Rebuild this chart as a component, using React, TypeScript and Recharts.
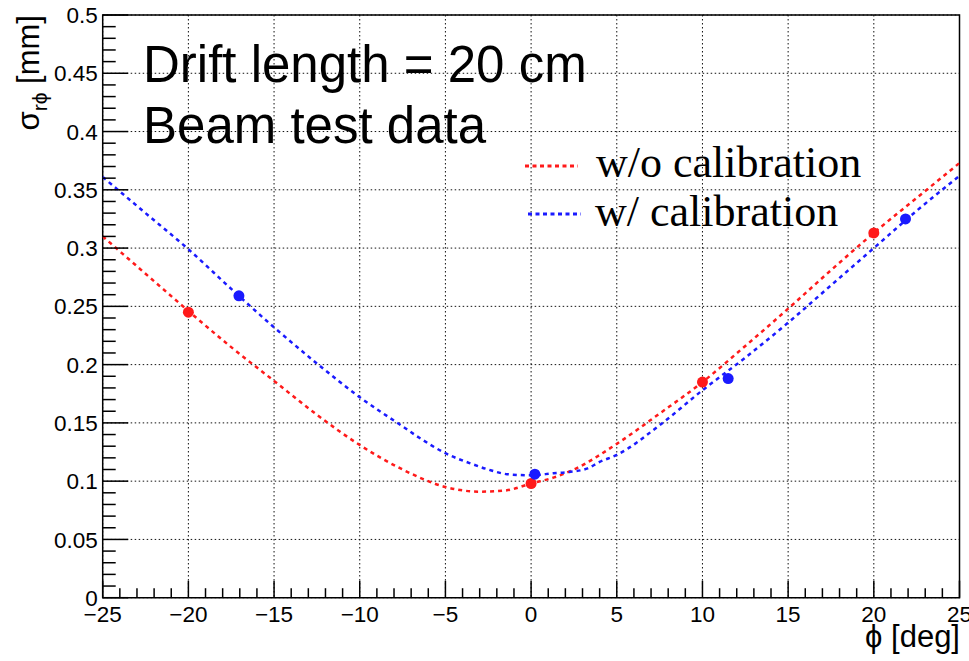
import React from "react";
import {
  ComposedChart,
  Line,
  Scatter,
  XAxis,
  YAxis,
  CartesianGrid,
  ReferenceArea,
  Customized,
} from "recharts";

// ---- data ----
const redPointsPhi = [-20, 0, 10, 20];
const redPointsVal = [0.245, 0.098, 0.185, 0.313];
const bluePointsPhi = [-17.05, 0.22, 11.5, 21.85];
const bluePointsVal = [0.259, 0.106, 0.188, 0.325];

const redCurvePhi = [-25, -22.5, -20, -17.5, -15, -12.5, -10, -7.5, -5, -3, -1.5, 0, 1.3, 2.5, 5, 7.5, 10, 12.5, 15, 17.5, 20, 22.5, 25];
const redCurveVal = [0.31, 0.278, 0.246, 0.215, 0.186, 0.157, 0.131, 0.11, 0.095, 0.091, 0.092, 0.098, 0.103, 0.11, 0.132, 0.158, 0.185, 0.216, 0.248, 0.281, 0.313, 0.343, 0.373];

const blueCurvePhi = [-25, -22.5, -20, -17.5, -15, -12.5, -10, -7.5, -6.5, -5, -3.5, -2.5, -1.4, 0, 1.3, 2.3, 3.3, 4, 5, 7.5, 10, 12.5, 15, 17.5, 20, 22.5, 25];
const blueCurveVal = [0.361, 0.33, 0.299, 0.265, 0.232, 0.201, 0.172, 0.147, 0.137, 0.124, 0.115, 0.11, 0.106, 0.105, 0.1068, 0.108, 0.111, 0.1165, 0.1225, 0.148, 0.178, 0.206, 0.236, 0.268, 0.3, 0.332, 0.362];

const xMajorTicks = [-25, -20, -15, -10, -5, 0, 5, 10, 15, 20, 25];
const yMajorTicks = [0, 0.05, 0.1, 0.15, 0.2, 0.25, 0.3, 0.35, 0.4, 0.45, 0.5];
const xMinorTicks = Array.from({ length: 51 }, (_, i) => -25 + i);
const yMinorTicks = Array.from({ length: 51 }, (_, i) => i / 100);

const seriesNames = ["w/o calibration", "w/ calibration"];
const seriesColors = ["#ff1a1a", "#1a1aff"];
const annotation = ["Drift length = 20 cm", "Beam test data"];

const zip = (a: number[], b: number[]) => a.map((p, i) => ({ phi: p, v: b[i] }));
const redPoints = zip(redPointsPhi, redPointsVal);
const bluePoints = zip(bluePointsPhi, bluePointsVal);
const redCurve = zip(redCurvePhi, redCurveVal);
const blueCurve = zip(blueCurvePhi, blueCurveVal);

const SANS = "'Liberation Sans', Arial, Helvetica, sans-serif";
const SERIF = "'Liberation Serif', 'Times New Roman', serif";

const isMajor = (v: number, step: number) => Math.abs(v / step - Math.round(v / step)) < 1e-6;

const XTick = (props: any) => {
  const { x, y, payload } = props;
  const v = payload.value;
  const major = isMajor(v, 5);
  const label = v < 0 ? "\u2212" + Math.abs(v) : String(v);
  return (
    <g>
      <line x1={x} x2={x} y1={y} y2={y - (major ? 17 : 9.5)} stroke="#000" strokeWidth={1.5} />
      {major && (
        <text x={x} y={y + 24} textAnchor="middle" fontFamily={SANS} fontSize={22.5} fill="#000">
          {label}
        </text>
      )}
    </g>
  );
};

const YTick = (props: any) => {
  const { x, y, payload } = props;
  const v = payload.value;
  const major = isMajor(v, 0.05);
  const label = String(Number(v.toFixed(2)));
  return (
    <g>
      <line x1={x} x2={x + (major ? 25.5 : 13)} y1={y} y2={y} stroke="#000" strokeWidth={1.5} />
      {major && (
        <text x={x - 5} y={y} dy="0.36em" textAnchor="end" fontFamily={SANS} fontSize={22.5} fill="#000">
          {label}
        </text>
      )}
    </g>
  );
};

const Overlay = () => (
  <g>
    {/* axis titles */}
    <text transform="translate(39,15) rotate(-90)" textAnchor="end" fontFamily={SANS} fontSize={31} fill="#000">
      σ
      <tspan fontSize={21} dy={8}>rϕ</tspan>
      <tspan dy={-8}> [mm]</tspan>
    </text>
    <text x={960} y={647} textAnchor="end" fontFamily={SANS} fontSize={31} fill="#000">
      ϕ [deg]
    </text>
    {/* annotation */}
    <text x={143} y={82} fontFamily={SANS} fontSize={51} fill="#000">
      {annotation[0]}
    </text>
    <text x={143} y={143} fontFamily={SANS} fontSize={51} fill="#000">
      {annotation[1]}
    </text>
    {/* legend */}
    <line x1={525} x2={578} y1={166} y2={166} stroke={seriesColors[0]} strokeWidth={3} strokeDasharray="4 3.5" />
    <text x={596} y={177} fontFamily={SERIF} fontSize={44} fill="#000">
      {seriesNames[0]}
    </text>
    <line x1={528} x2={581} y1={214} y2={214} stroke={seriesColors[1]} strokeWidth={3} strokeDasharray="4 3.5" />
    <text x={595} y={226} fontFamily={SERIF} fontSize={44} fill="#000">
      {seriesNames[1]}
    </text>
  </g>
);

const dot = (color: string) => (p: any) => <circle cx={p.cx} cy={p.cy} r={5.5} fill={color} />;

export default function App() {
  return (
    <div style={{ position: "absolute", left: 0, top: 0, background: "#fff" }}>
      <ComposedChart
        width={969}
        height={661}
        margin={{ top: 15, right: 9.5, bottom: 62.3, left: 101.7 }}
      >
        <CartesianGrid
          horizontalValues={yMajorTicks}
          verticalValues={xMajorTicks}
          stroke="#111"
          strokeWidth={1}
          strokeDasharray="1.5 2.5"
        />
        <XAxis
          type="number"
          dataKey="phi"
          domain={[-25, 25]}
          ticks={xMinorTicks}
          interval={0}
          height={1}
          tickSize={0}
          tickMargin={0}
          tickLine={false}
          axisLine={false}
          tick={<XTick />}
          allowDataOverflow
        />
        <YAxis
          type="number"
          dataKey="v"
          domain={[0, 0.5]}
          ticks={yMinorTicks}
          interval={0}
          width={1}
          tickSize={0}
          tickMargin={0}
          tickLine={false}
          axisLine={false}
          tick={<YTick />}
          allowDataOverflow
        />
        <ReferenceArea x1={-25} x2={25} y1={0} y2={0.5} fill="none" stroke="#000" strokeWidth={1.5} ifOverflow="visible" />
        <Line
          data={redCurve}
          dataKey="v"
          type="monotone"
          stroke={seriesColors[0]}
          strokeWidth={2.5}
          strokeDasharray="4 4"
          dot={false}
          activeDot={false}
          isAnimationActive={false}
        />
        <Line
          data={blueCurve}
          dataKey="v"
          type="monotone"
          stroke={seriesColors[1]}
          strokeWidth={2.5}
          strokeDasharray="4 4"
          dot={false}
          activeDot={false}
          isAnimationActive={false}
        />
        <Scatter data={redPoints} dataKey="v" shape={dot(seriesColors[0])} isAnimationActive={false} />
        <Scatter data={bluePoints} dataKey="v" shape={dot(seriesColors[1])} isAnimationActive={false} />
        <Customized component={Overlay} />
      </ComposedChart>
    </div>
  );
}
